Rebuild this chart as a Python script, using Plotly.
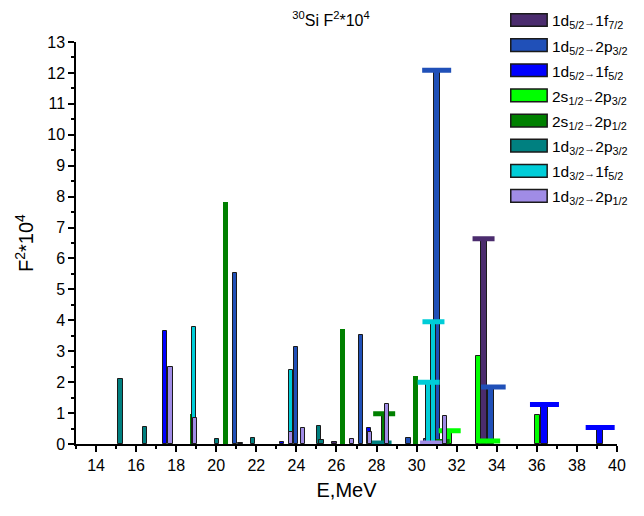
import plotly.graph_objects as go

# ---------------- data (E in MeV, F^2*10^4) ----------------
# plain bars (p) and bars drawn with a cross-bar on top (m)
d52_1f72_pE = [25.9]
d52_1f72_pF = [0.07]
d52_1f72_mE = [33.34]
d52_1f72_mF = [6.64]

d52_2p32_pE = [20.93, 21.2, 23.97, 27.22, 29.6, 30.47]
d52_2p32_pF = [5.53, 0.03, 3.13, 3.53, 0.2, 0.15]
d52_2p32_mE = [31.0, 33.72]
d52_2p32_mF = [12.09, 1.84]

d52_1f52_pE = [17.44, 23.29, 27.61]
d52_1f52_pF = [3.66, 0.06, 0.51]
d52_1f52_mE = [36.38, 39.16]
d52_1f52_mF = [1.28, 0.53]

s12_2p32_pE = [33.08, 36.04]
s12_2p32_pF = [2.84, 0.93]
s12_2p32_mE = [31.65, 33.62]
s12_2p32_mF = [0.43, 0.1]

s12_2p12_pE = [18.8, 20.45, 26.3, 29.93]
s12_2p12_pF = [0.98, 7.83, 3.73, 2.2]
s12_2p12_mE = [28.38, 31.1]
s12_2p12_mF = [0.98, 0.08]

d32_2p32_pE = [15.23, 16.45, 20.04, 21.84, 25.12, 25.25]
d32_2p32_pF = [2.11, 0.555, 0.15, 0.21, 0.575, 0.12]
d32_2p32_mE = [28.2]
d32_2p32_mF = [0.03]

d32_1f52_pE = [18.9, 23.73]
d32_1f52_pF = [3.77, 2.38]
d32_1f52_mE = [30.6, 30.84]
d32_1f52_mF = [2.0, 3.95]

d32_2p12_pE = [17.71, 18.95, 23.73, 24.34, 26.77, 27.68, 28.53, 31.42]
d32_2p12_pF = [2.5, 0.84, 0.4, 0.52, 0.15, 0.4, 1.3, 0.91]
d32_2p12_mE = [30.72]
d32_2p12_mF = [0.03]

ARROW = '<span style="font-size:11px">→</span>'
names = [
    "1d<sub>5/2</sub>" + ARROW + "1f<sub>7/2</sub>",
    "1d<sub>5/2</sub>" + ARROW + "2p<sub>3/2</sub>",
    "1d<sub>5/2</sub>" + ARROW + "1f<sub>5/2</sub>",
    "2s<sub>1/2</sub>" + ARROW + "2p<sub>3/2</sub>",
    "2s<sub>1/2</sub>" + ARROW + "2p<sub>1/2</sub>",
    "1d<sub>3/2</sub>" + ARROW + "2p<sub>3/2</sub>",
    "1d<sub>3/2</sub>" + ARROW + "1f<sub>5/2</sub>",
    "1d<sub>3/2</sub>" + ARROW + "2p<sub>1/2</sub>",
]

series = [
    (d52_1f72_pE, d52_1f72_pF, d52_1f72_mE, d52_1f72_mF),
    (d52_2p32_pE, d52_2p32_pF, d52_2p32_mE, d52_2p32_mF),
    (d52_1f52_pE, d52_1f52_pF, d52_1f52_mE, d52_1f52_mF),
    (s12_2p32_pE, s12_2p32_pF, s12_2p32_mE, s12_2p32_mF),
    (s12_2p12_pE, s12_2p12_pF, s12_2p12_mE, s12_2p12_mF),
    (d32_2p32_pE, d32_2p32_pF, d32_2p32_mE, d32_2p32_mF),
    (d32_1f52_pE, d32_1f52_pF, d32_1f52_mE, d32_1f52_mF),
    (d32_2p12_pE, d32_2p12_pF, d32_2p12_mE, d32_2p12_mF),
]

# ---------------- styles ----------------
colors = ["#4B2C6E", "#2050B8", "#0000FF", "#00FF00",
          "#008000", "#008080", "#00CDD8", "#A08CE6"]
outline = [1, 1, 1, 1, 0, 1, 1, 1]
bar_w = [0.22, 0.22, 0.22, 0.22, 0.24, 0.22, 0.22, 0.22]
stem_w = [0.3, 0.3, 0.32, 0.22, 0.24, 0.22, 0.22, 0.22]
cap_half = [11, 14.5, 14.5, 11, 11, 11, 11, 11]

FONT = "Arial, Liberation Sans, sans-serif"
OFF = 8  # page body margin of the browser (both sides)
W, H = 644 - 2 * OFF, 516 - 2 * OFF
# plot-area edges, in screen pixels
SL, SR, ST, SB = 76, 626, 42, 453
L, R, T, B = SL - OFF, SR - OFF, ST - OFF, SB - OFF


def px2paper_x(px):
    return (px - OFF - L) / (R - L)


def px2paper_y(py):
    return (B - (py - OFF)) / (B - T)


fig = go.Figure()
for i, (pE, pF, mE, mF) in enumerate(series):
    line = dict(color="#1a1a1a", width=outline[i]) if outline[i] else dict(width=0)
    fig.add_trace(go.Bar(
        x=pE, y=pF, width=bar_w[i], name=names[i], showlegend=False,
        marker=dict(color=colors[i], line=line),
    ))
    fig.add_trace(go.Bar(
        x=mE, y=mF, width=stem_w[i], name=names[i], showlegend=False,
        marker=dict(color=colors[i], line=dict(color="#1a1a1a", width=1)),
        error_y=dict(type="constant", value=0, visible=True, color=colors[i],
                     thickness=5, width=cap_half[i]),
    ))

# ---------------- legend (drawn as boxes + text) ----------------
shapes = []
annotations = []
for i, nm in enumerate(names):
    cy = 19.5 + 25.7 * i
    shapes.append(dict(
        type="rect", xref="paper", yref="paper",
        x0=px2paper_x(518), x1=px2paper_x(555),
        y0=px2paper_y(cy + 6.5), y1=px2paper_y(cy - 6.5),
        fillcolor=colors[i], line=dict(color="#1a1a1a", width=1.5),
    ))
    annotations.append(dict(
        xref="paper", yref="paper", x=px2paper_x(558), y=px2paper_y(cy + 2),
        xanchor="left", yanchor="middle", showarrow=False, text=nm,
        font=dict(family=FONT, size=15.5, color="#000"),
    ))

fig.update_layout(
    width=W, height=H,
    margin=dict(l=L, r=W - R, t=T, b=H - B),
    paper_bgcolor="white", plot_bgcolor="white",
    barmode="overlay", bargap=0,
    showlegend=False,
    font=dict(family=FONT, size=16, color="#000"),
    title=dict(text="<sup>30</sup>Si F<sup>2</sup>*10<sup>4</sup>",
               x=(331 - OFF) / W, xref="container", xanchor="center",
               y=1 - (20 - OFF) / H, yref="container", yanchor="middle",
               font=dict(family=FONT, size=16, color="#000")),
    xaxis=dict(range=[13, 40], tick0=14, dtick=2, ticks="outside", ticklen=6,
               tickwidth=1.5, tickcolor="#000", showline=True, linecolor="#000",
               linewidth=1.5, showgrid=False, zeroline=False,
               tickfont=dict(size=16),
               minor=dict(dtick=1, tick0=13, ticks="outside", ticklen=3,
                          tickcolor="#000", tickwidth=1.5),
               title=dict(text="E,MeV", font=dict(size=20), standoff=10)),
    yaxis=dict(range=[0, 13.0], dtick=1, ticks="outside", ticklen=6,
               tickwidth=1.5, tickcolor="#000", showline=True, linecolor="#000",
               linewidth=1.5, showgrid=False, zeroline=False,
               tickfont=dict(size=16),
               minor=dict(dtick=0.5, ticks="outside", ticklen=3,
                          tickcolor="#000", tickwidth=1.5),
               title=dict(text="F<sup>2</sup>*10<sup>4</sup>", font=dict(size=20),
                          standoff=8)),
    shapes=shapes, annotations=annotations,
)

fig.write_html("out.html", config={"displayModeBar": False})
